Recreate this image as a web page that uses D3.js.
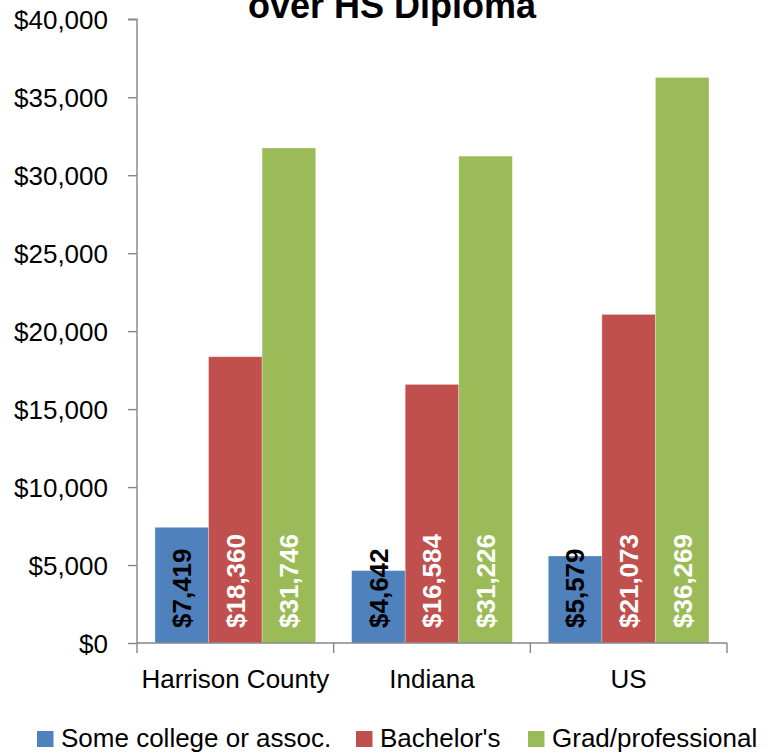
<!DOCTYPE html>
<html><head><meta charset="utf-8">
<script src="https://cdn.jsdelivr.net/npm/d3@7"></script>
<style>body{margin:0;background:#fff}svg{display:block}</style>
</head><body>
<svg id="chart" width="781" height="755"></svg>
<script>
const categories = ["Harrison County", "Indiana", "US"];
const seriesNames = ["Some college or assoc.", "Bachelor's", "Grad/professional"];
const someCollege = [7419, 4642, 5579];
const bachelors = [18360, 16584, 21073];
const gradProf = [31746, 31226, 36269];
const yTicks = [0, 5000, 10000, 15000, 20000, 25000, 30000, 35000, 40000];
const titleText = "over HS Diploma";

const colors = ["#4F81BD", "#C0504D", "#9BBB59"];
const labelColors = ["#000", "#fff", "#fff"];
const seriesValues = [someCollege, bachelors, gradProf];

const svg = d3.select("#chart");
const font = "'Liberation Sans', Arial, sans-serif";
const plotLeft = 137, plotRight = 727, plotTop = 19.3, plotBottom = 643;

const x = d3.scaleBand().domain(categories).range([plotLeft, plotRight]).paddingInner(0).paddingOuter(0);
const groupPad = 18;
const x1 = d3.scaleBand().domain(seriesNames).range([groupPad, x.bandwidth() - groupPad]).padding(0);
const y = d3.scaleLinear().domain([0, 40000]).range([plotBottom, plotTop]);

const axisColor = "#868686";

// Title
svg.append("text").attr("x", 392).attr("y", 18)
  .attr("text-anchor", "middle").attr("font-family", font).attr("font-weight", "bold")
  .attr("font-size", 36).attr("fill", "#000").text(titleText);

// Bars
const data = [];
categories.forEach((c, ci) => seriesNames.forEach((s, si) => data.push({c, s, si, v: seriesValues[si][ci]})));

svg.append("g").selectAll("rect").data(data).join("rect")
  .attr("x", d => x(d.c) + x1(d.s))
  .attr("y", d => y(d.v))
  .attr("width", x1.bandwidth())
  .attr("height", d => y(0) - y(d.v))
  .attr("fill", d => colors[d.si])
  .attr("stroke", "rgba(255,255,255,0.35)").attr("stroke-width", 0.8);

// Y axis
const yAxis = d3.axisLeft(y).tickValues(yTicks).tickSize(9).tickPadding(20)
  .tickFormat(d => "$" + d3.format(",")(d));
const gy = svg.append("g").attr("transform", `translate(${plotLeft},0)`).call(yAxis);
gy.select(".domain").attr("stroke", axisColor).attr("stroke-width", 1.4).attr("d", `M-9,${plotTop}H0V${plotBottom}`);
gy.selectAll(".tick line").attr("stroke", axisColor).attr("stroke-width", 1.4);
gy.selectAll(".tick text").attr("font-family", font).attr("font-size", 26).attr("fill", "#000").attr("dy", "0.35em");

// X axis
const gx = svg.append("g").attr("transform", `translate(0,${plotBottom})`);
gx.append("line").attr("x1", plotLeft).attr("x2", plotRight).attr("y1", 0).attr("y2", 0)
  .attr("stroke", axisColor).attr("stroke-width", 1.4);
const bounds = categories.map(c => x(c)).concat([x(categories[categories.length - 1]) + x.bandwidth()]);
gx.selectAll("line.tk").data(bounds).join("line").attr("class", "tk")
  .attr("x1", d => d).attr("x2", d => d).attr("y1", 0).attr("y2", 10)
  .attr("stroke", axisColor).attr("stroke-width", 1.4);
gx.selectAll("text").data(categories).join("text")
  .attr("x", d => x(d) + x.bandwidth() / 2).attr("y", 45)
  .attr("text-anchor", "middle").attr("font-family", font).attr("font-size", 26).attr("fill", "#000")
  .text(d => d);

// Data labels (rotated)
svg.append("g").selectAll("text").data(data).join("text")
  .attr("transform", d => `translate(${x(d.c) + x1(d.s) + x1.bandwidth() / 2},${y(0) - 15}) rotate(-90)`)
  .attr("dy", "0.36em")
  .attr("text-anchor", "start").attr("font-family", font).attr("font-weight", "bold").attr("font-size", 26)
  .attr("fill", d => labelColors[d.si])
  .text(d => "$" + d3.format(",")(d.v));

// Legend
const legendX = [37, 356, 528];
const lg = svg.append("g");
seriesNames.forEach((s, i) => {
  lg.append("rect").attr("x", legendX[i]).attr("y", 731).attr("width", 16.5).attr("height", 16).attr("fill", colors[i]);
  lg.append("text").attr("x", legendX[i] + 24).attr("y", 747).attr("font-family", font).attr("font-size", 26)
    .attr("fill", "#000").text(s);
});
</script>
</body></html>
